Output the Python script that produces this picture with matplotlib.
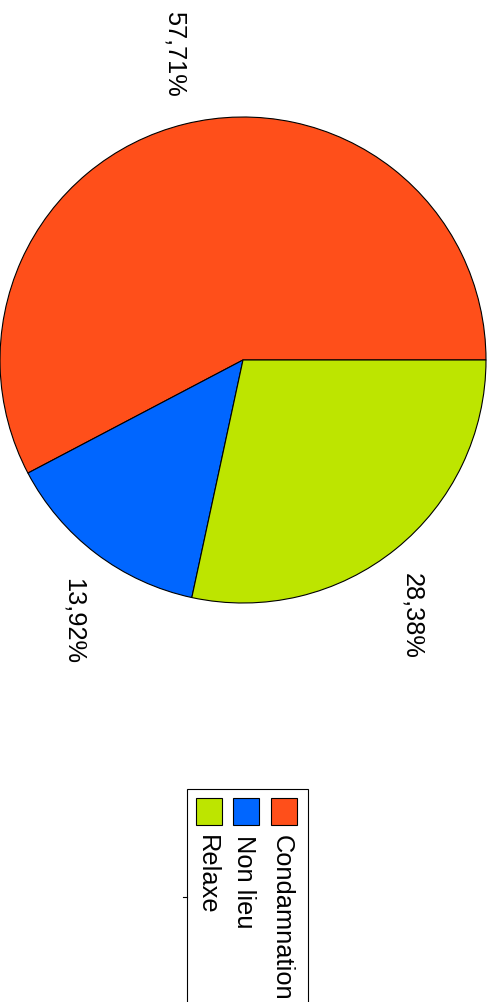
import numpy as np
import matplotlib
matplotlib.use("Agg")
import matplotlib.pyplot as plt
from matplotlib.patches import Rectangle

labels = ["Condamnation", "Non lieu", "Relaxe"]
values = [57.71, 13.92, 28.38]
colors = ["#FF4F1A", "#0066FF", "#BDE500"]

plt.rcParams['font.family'] = ['Liberation Sans', 'DejaVu Sans']

W, H = 498, 1003
fig = plt.figure(figsize=(W / 100, H / 100), dpi=100)
ax = fig.add_axes([0, 0, 1, 1])

# chart is shown rotated a quarter turn, so everything is drawn in that frame
cx, cy, r = 243, H - 361, 243
wedges, _ = ax.pie(values, colors=colors, startangle=0, counterclock=True,
                   center=(cx, cy), radius=r,
                   wedgeprops=dict(edgecolor='black', linewidth=0.8))

for w, v in zip(wedges, values):
    mid = np.deg2rad((w.theta1 + w.theta2) / 2)
    x = cx + 1.13 * r * np.cos(mid)
    y = cy + 1.12 * r * np.sin(mid)
    va = 'top' if np.sin(mid) < 0 else 'bottom'
    ax.text(x - 3, y, ("%.2f" % v).replace('.', ',') + '%', rotation=-90,
            ha='center', va=va, fontsize=18.3)

# legend box (runs off the bottom edge)
ax.add_patch(Rectangle((187, -10), 121, H - 790 + 10, fill=False,
                       edgecolor='black', linewidth=0.8))
ax.plot([183, 187], [H - 898, H - 898], color='black', lw=0.8)
col_x = [284, 246, 209]
for lab, c, xc in zip(labels, colors, col_x):
    ax.add_patch(Rectangle((xc - 13, H - 826), 26, 27, facecolor=c,
                           edgecolor='black', linewidth=0.8))
    ax.text(xc - 2, H - 835, lab, rotation=-90, ha='center', va='top',
            fontsize=18.3)

ax.set_xlim(0, W)
ax.set_ylim(0, H)
ax.set_aspect('auto')
ax.axis('off')
fig.savefig("out.png", dpi=100)
